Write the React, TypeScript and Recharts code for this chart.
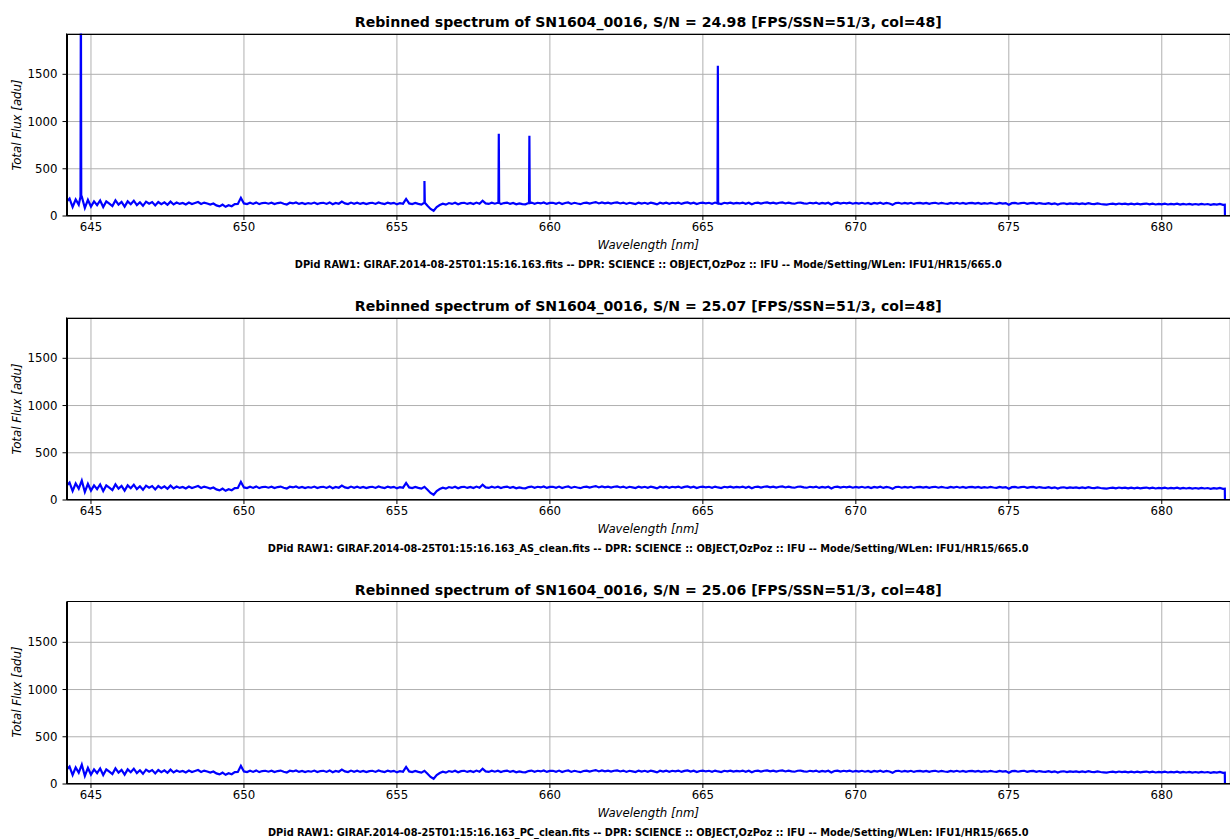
import React from 'react';
import { LineChart, Line, XAxis, YAxis, CartesianGrid } from 'recharts';

// Rebinned spectrum sampling (nm)
const WL_START = 644.2;
const WL_STEP = 0.1;

// Continuum flux [adu], one value per 0.1 nm bin from 644.2 nm to 682.0 nm
const CONTINUUM: number[] = [
  150, 185, 95, 175, 120, 205, 85, 170, 100, 155,
  115, 165, 95, 155, 130, 105, 165, 120, 150, 100,
  155, 125, 162, 115, 145, 108, 152, 130, 148, 112,
  148, 126, 144, 118, 152, 122, 142, 128, 138, 122,
  142, 127, 138, 148, 128, 142, 132, 122, 132, 112,
  102, 120, 97, 114, 104, 126, 128, 192, 133, 126,
  140, 128, 144, 126, 137, 140, 130, 140, 126, 137,
  142, 130, 122, 140, 133, 144, 128, 138, 126, 137,
  130, 142, 126, 137, 140, 128, 144, 124, 138, 130,
  152, 133, 126, 142, 130, 140, 128, 138, 126, 136,
  140, 128, 144, 133, 126, 142, 131, 139, 123, 137,
  130, 180, 133, 126, 138, 128, 120, 140, 108, 75,
  55, 95, 116, 130, 120, 137, 128, 140, 124, 136,
  140, 128, 138, 126, 142, 130, 162, 133, 128, 140,
  130, 140, 126, 137, 142, 128, 138, 124, 134, 126,
  123, 137, 142, 130, 140, 133, 144, 128, 138, 140,
  130, 142, 126, 138, 144, 128, 140, 132, 125, 138,
  142, 131, 140, 147, 133, 144, 134, 142, 131, 140,
  144, 133, 142, 128, 140, 134, 126, 142, 132, 140,
  130, 142, 134, 123, 140, 132, 142, 130, 140, 134,
  142, 128, 139, 144, 132, 140, 126, 138, 142, 133,
  140, 130, 142, 133, 126, 140, 134, 142, 131, 139,
  133, 142, 130, 140, 124, 138, 142, 132, 140, 144,
  134, 142, 131, 140, 144, 133, 142, 134, 130, 140,
  142, 134, 130, 140, 133, 142, 128, 139, 132, 140,
  122, 138, 142, 131, 140, 133, 141, 130, 138, 132,
  140, 130, 138, 126, 139, 131, 140, 128, 138, 132,
  118, 137, 140, 130, 138, 132, 140, 128, 137, 139,
  131, 139, 128, 137, 140, 130, 138, 132, 128, 138,
  132, 140, 130, 138, 128, 137, 139, 131, 138, 129,
  137, 130, 139, 132, 128, 138, 131, 137, 120, 136,
  138, 130, 137, 140, 129, 136, 138, 128, 137, 131,
  128, 136, 126, 134, 122, 132, 135, 126, 134, 128,
  134, 126, 133, 127, 135, 128, 125, 133, 127, 124,
  120, 127, 130, 124, 132, 125, 131, 123, 130, 124,
  130, 123, 129, 132, 124, 130, 122, 129, 123, 130,
  122, 129, 123, 130, 120, 128, 122, 129, 121, 127,
  120, 128, 122, 127, 119, 126, 120, 127, 118,
];

// Detector edge: flux drops to zero at the red end of the spectrum
const EDGE_WL = [682.06, 682.065, 682.3];
const EDGE_FLUX = [119, 0, 0];

// Narrow emission spikes present only in the raw (uncleaned) spectrum
const RAW_SPIKE_WL = [644.67, 655.9, 658.33, 659.33, 665.49];
const RAW_SPIKE_FLUX = [2600, 370, 870, 850, 1590];

const X_TICKS = [645, 650, 655, 660, 665, 670, 675, 680];
const Y_TICKS = [0, 500, 1000, 1500];
const X_DOMAIN: [number, number] = [644.2, 682.23];
const Y_DOMAIN: [number, number] = [0, 1932];

const TITLES = [
  'Rebinned spectrum of SN1604_0016, S/N = 24.98 [FPS/SSN=51/3, col=48]',
  'Rebinned spectrum of SN1604_0016, S/N = 25.07 [FPS/SSN=51/3, col=48]',
  'Rebinned spectrum of SN1604_0016, S/N = 25.06 [FPS/SSN=51/3, col=48]',
];
const FOOTERS = [
  'DPid RAW1: GIRAF.2014-08-25T01:15:16.163.fits -- DPR: SCIENCE :: OBJECT,OzPoz :: IFU -- Mode/Setting/WLen: IFU1/HR15/665.0',
  'DPid RAW1: GIRAF.2014-08-25T01:15:16.163_AS_clean.fits -- DPR: SCIENCE :: OBJECT,OzPoz :: IFU -- Mode/Setting/WLen: IFU1/HR15/665.0',
  'DPid RAW1: GIRAF.2014-08-25T01:15:16.163_PC_clean.fits -- DPR: SCIENCE :: OBJECT,OzPoz :: IFU -- Mode/Setting/WLen: IFU1/HR15/665.0',
];
const X_LABEL = 'Wavelength [nm]';
const Y_LABEL = 'Total Flux [adu]';

type Pt = { wl: number; flux: number };

const continuumData: Pt[] = [
  ...CONTINUUM.map((f, i) => ({
    wl: Math.round((WL_START + i * WL_STEP) * 1000) / 1000,
    flux: f,
  })),
  ...EDGE_WL.map((w, i) => ({ wl: w, flux: EDGE_FLUX[i] })),
];

const nearestFlux = (w: number) => {
  const i = Math.round((w - WL_START) / WL_STEP);
  return CONTINUUM[Math.max(0, Math.min(CONTINUUM.length - 1, i))];
};

const rawData: Pt[] = (() => {
  const pts: Pt[] = [...continuumData];
  RAW_SPIKE_WL.forEach((w, k) => {
    const b = nearestFlux(w);
    pts.push({ wl: w - 0.012, flux: b });
    pts.push({ wl: w, flux: RAW_SPIKE_FLUX[k] });
    pts.push({ wl: w + 0.012, flux: b });
  });
  return pts.sort((a, b) => a.wl - b.wl);
})();

const PANEL_DATA = [rawData, continuumData, continuumData];
const PANEL_TOPS = [0, 284, 567.5];

const FONT = '"DejaVu Sans", Verdana, sans-serif';
const W = 1230;
const H = 284;
const PLOT_TOP = 33.5;
const PLOT_H = 182.5;
const PLOT_LEFT = 66.5;
const TICK_FS = 11.75;

function Panel({ data, top, title, footer }: { data: Pt[]; top: number; title: string; footer: string }) {
  const centerX = PLOT_LEFT + (W - PLOT_LEFT) / 2;
  return (
    <div style={{ position: 'absolute', left: 0, top, width: W, height: H }}>
      <LineChart
        width={W}
        height={H}
        data={data}
        margin={{ top: PLOT_TOP, right: 0, bottom: 0, left: 0 }}
      >
        <CartesianGrid stroke="#b0b0b0" strokeWidth={1} />
        <XAxis
          dataKey="wl"
          type="number"
          domain={X_DOMAIN}
          allowDataOverflow
          ticks={X_TICKS}
          height={H - PLOT_TOP - PLOT_H}
          tick={{ fontSize: TICK_FS, fill: '#000', fontFamily: FONT }}
          tickSize={4}
          tickMargin={3}
          tickLine={{ stroke: '#000' }}
          axisLine={{ stroke: '#000' }}
        />
        <YAxis
          type="number"
          domain={Y_DOMAIN}
          allowDataOverflow
          ticks={Y_TICKS}
          width={PLOT_LEFT}
          tick={{ fontSize: TICK_FS, fill: '#000', fontFamily: FONT }}
          tickSize={4}
          tickMargin={5}
          tickLine={{ stroke: '#000' }}
          axisLine={{ stroke: '#000' }}
        />
        <Line
          dataKey="flux"
          type="linear"
          stroke="#0000ff"
          strokeWidth={2.2}
          dot={false}
          isAnimationActive={false}
        />
      </LineChart>
      <div
        style={{
          position: 'absolute',
          left: PLOT_LEFT,
          top: PLOT_TOP,
          width: W - PLOT_LEFT + 5,
          height: PLOT_H,
          border: '1px solid #000',
          boxSizing: 'border-box',
          pointerEvents: 'none',
        }}
      />
      <div
        style={{
          position: 'absolute', left: 0, width: 2 * centerX, top: 13, textAlign: 'center',
          fontFamily: FONT, fontWeight: 'bold', fontSize: 14.1, lineHeight: '18px', color: '#000', whiteSpace: 'nowrap',
        }}
      >
        {title}
      </div>
      <div
        style={{
          position: 'absolute', left: 0, width: 2 * centerX, top: 238, textAlign: 'center',
          fontFamily: FONT, fontStyle: 'italic', fontSize: TICK_FS, lineHeight: '14px', color: '#000', whiteSpace: 'nowrap',
        }}
      >
        {X_LABEL}
      </div>
      <div
        style={{
          position: 'absolute', left: 0, width: 2 * centerX, top: 259, textAlign: 'center',
          fontFamily: FONT, fontWeight: 'bold', fontSize: 9.8, lineHeight: '12px', color: '#000', whiteSpace: 'nowrap',
        }}
      >
        {footer}
      </div>
      <div
        style={{
          position: 'absolute', left: 17 - 60, top: PLOT_TOP + PLOT_H / 2 - 7, width: 120, textAlign: 'center',
          transform: 'rotate(-90deg)', fontFamily: FONT, fontStyle: 'italic', fontSize: TICK_FS, lineHeight: '14px',
          color: '#000', whiteSpace: 'nowrap',
        }}
      >
        {Y_LABEL}
      </div>
    </div>
  );
}

export default function App() {
  return (
    <div style={{ position: 'absolute', left: 0, top: 0, width: W, height: 839, background: '#fff', overflow: 'hidden' }}>
      {PANEL_DATA.map((d, i) => (
        <Panel key={i} data={d} top={PANEL_TOPS[i]} title={TITLES[i]} footer={FOOTERS[i]} />
      ))}
    </div>
  );
}
